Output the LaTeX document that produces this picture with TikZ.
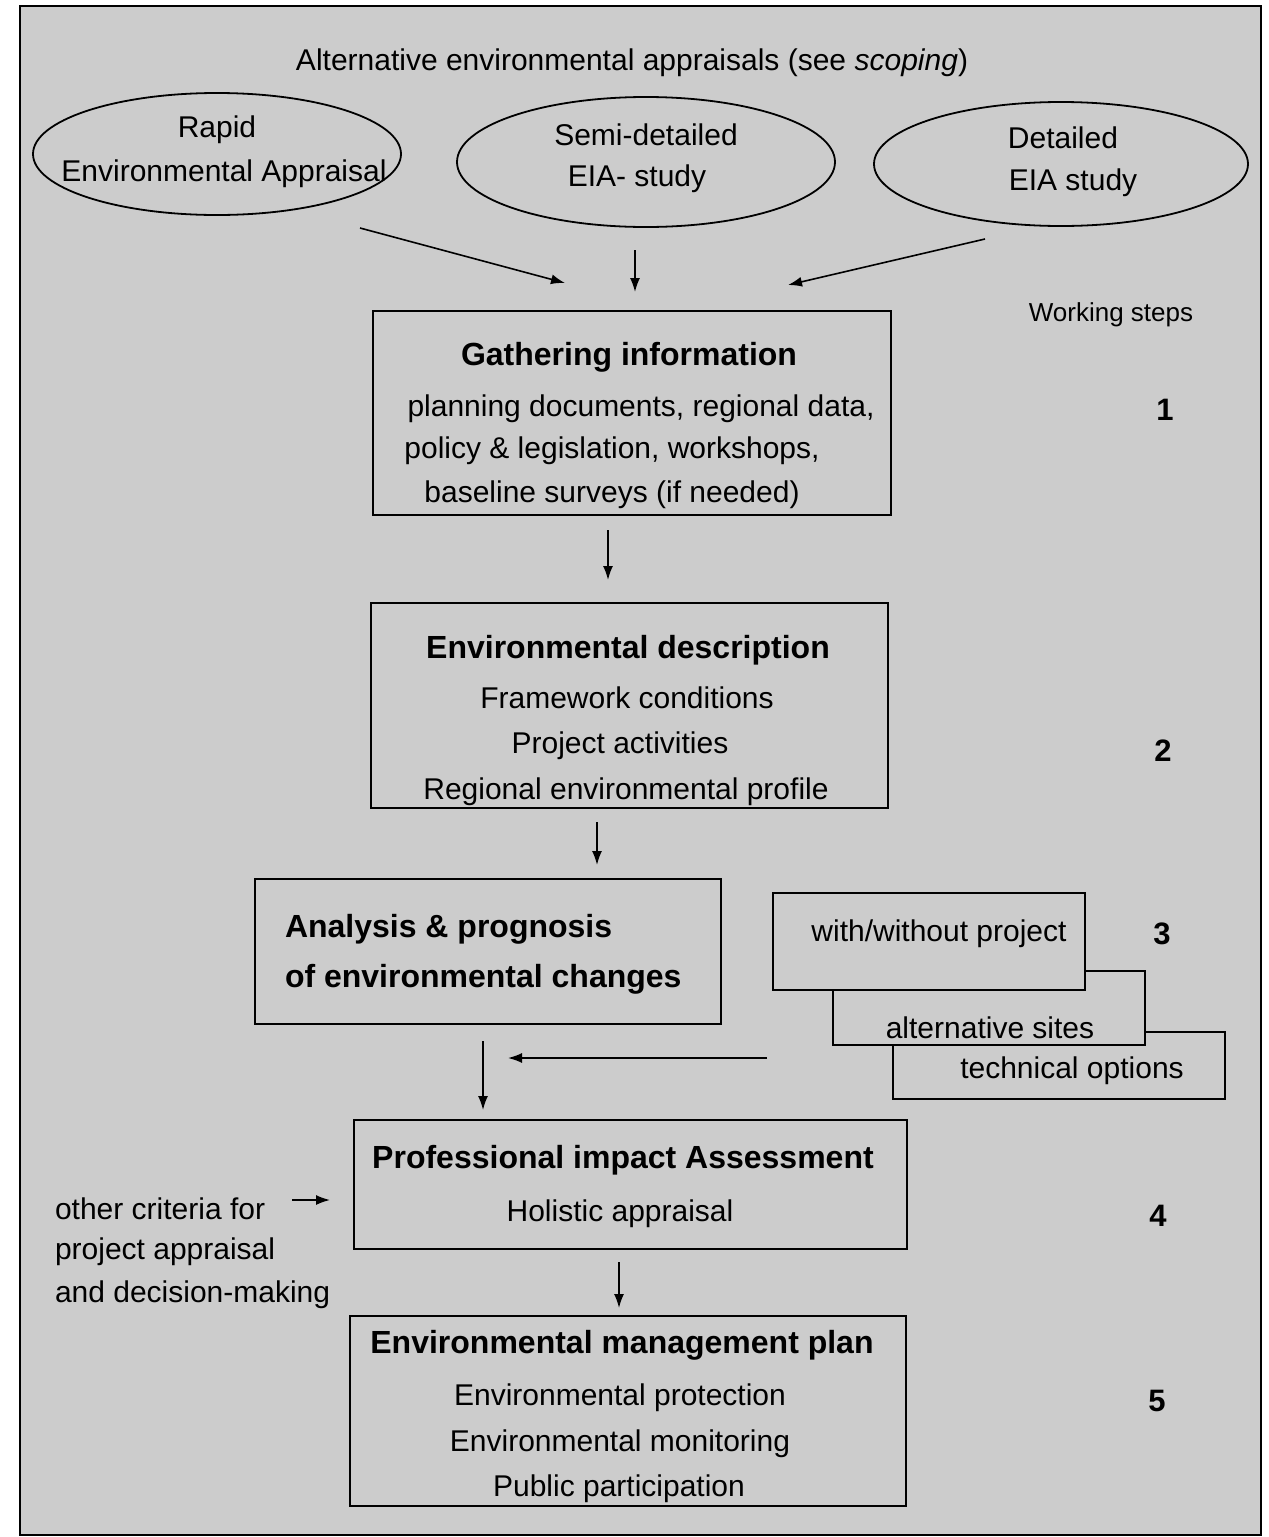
\documentclass[tikz,border=0pt]{standalone}
\usepackage{fontspec}
\setmainfont{Liberation Sans}
\usetikzlibrary{shapes.geometric,arrows.meta}
\definecolor{bg}{gray}{0.80}
\begin{document}
\begin{tikzpicture}[x=1pt,y=-1pt,
  every node/.style={inner sep=0pt, outer sep=0pt},
  txt/.style={font=\fontsize{30}{40}\selectfont},
  ttl/.style={font=\fontsize{32}{40}\selectfont\bfseries},
  num/.style={font=\fontsize{31}{40}\selectfont\bfseries},
  small/.style={font=\fontsize{26}{32}\selectfont},
  box/.style={draw, line width=1.8pt, fill=bg},
  oval/.style={draw, ellipse, line width=1.8pt, fill=bg},
  arr/.style={line width=1.6pt, -{Latex[length=14pt,width=10pt]}}
]
\useasboundingbox (0,0) rectangle (1269,1537);
\fill[white] (0,0) rectangle (1269,1537);
\node[draw, line width=1.6pt, fill=bg, minimum width=1241pt, minimum height=1529pt] (frame) at (640.5,770.5) {};

% title
\node[txt] (title) at (632,63) {Alternative environmental appraisals (see \textit{scoping})};

% ellipses
\node[oval, minimum width=368pt, minimum height=122pt] (r) at (217,154) {};
\node[oval, minimum width=378pt, minimum height=130pt] (s) at (646,162) {};
\node[oval, minimum width=374pt, minimum height=124pt] (d) at (1061,164) {};
\node[txt] (rt1) at (217,130) {Rapid};
\node[txt] (rt2) at (224,174) {Environmental Appraisal};
\node[txt] (st1) at (646,135) {Semi-detailed};
\node[txt] (st2) at (637,179) {EIA- study};
\node[txt] (dt1) at (1063,138) {Detailed};
\node[txt] (dt2) at (1073,183) {EIA study};

\node[small] (ws) at (1111,315) {Working steps};

% box 1
\node[box, minimum width=518pt, minimum height=204pt] (g) at (632,413) {};
\node[ttl] (gt) at (629,357) {Gathering information};
\node[txt] (g1) at (641,409) {planning documents, regional data,};
\node[txt] (g2) at (612,451) {policy \& legislation, workshops,};
\node[txt] (g3) at (612,495) {baseline surveys (if needed)};
\node[num] (n1) at (1165,410) {1};

% box 2
\node[box, minimum width=517pt, minimum height=205pt] (e) at (629.5,705.5) {};
\node[ttl] (et) at (628,650) {Environmental description};
\node[txt] (e1) at (627,698) {Framework conditions};
\node[txt] (e2) at (620,746) {Project activities};
\node[txt] (e3) at (626,792) {Regional environmental profile};
\node[num] (n2) at (1163,751) {2};

% box 3
\node[box, minimum width=466pt, minimum height=145pt] (a) at (488,951.5) {};
\node[ttl, anchor=west] (at1) at (285,929) {Analysis \& prognosis};
\node[ttl, anchor=west] (at2) at (285,979) {of environmental changes};

% stacked option boxes
\node[box, minimum width=332pt, minimum height=67pt] (wc) at (1059,1065.5) {};
\node[box, minimum width=312pt, minimum height=74pt] (wb) at (989,1008) {};
\node[box, minimum width=312pt, minimum height=97pt] (wa) at (929,941.5) {};
\node[txt] (wat) at (939,934) {with/without project};
\node[txt] (wbt) at (990,1028) {alternative sites};
\node[txt] (wct) at (1072,1071) {technical options};
\node[num] (n3) at (1162,934) {3};

% box 4
\node[box, minimum width=553pt, minimum height=129pt] (p) at (630.5,1184.5) {};
\node[ttl] (pt) at (623,1160) {Professional impact Assessment};
\node[txt] (p1) at (620,1214) {Holistic appraisal};
\node[num] (n4) at (1158,1216) {4};
\node[txt, anchor=west] (o1) at (55,1209) {other criteria for};
\node[txt, anchor=west] (o2) at (55,1252) {project appraisal};
\node[txt, anchor=west] (o3) at (55,1295) {and decision-making};

% box 5
\node[box, minimum width=556pt, minimum height=190pt] (m) at (628,1411) {};
\node[ttl] (mt) at (622,1345) {Environmental management plan};
\node[txt] (m1) at (620,1398) {Environmental protection};
\node[txt] (m2) at (620,1444) {Environmental monitoring};
\node[txt] (m3) at (619,1489) {Public participation};
\node[num] (n5) at (1157,1401) {5};

% connectors
\draw[arr] ([xshift=143pt,yshift=-74pt]r.center) -- ([xshift=-67pt,yshift=28pt]g.north);
\draw[arr] ([xshift=-11pt,yshift=-23pt]s.south) -- ([xshift=3pt,yshift=19pt]g.north);
\draw[arr] ([xshift=-76pt,yshift=-75pt]d.center) -- ([xshift=156pt,yshift=26pt]g.north);
\draw[arr] ([xshift=-24pt,yshift=-15pt]g.south) -- ([xshift=-21.5pt,yshift=23pt]e.north);
\draw[arr] ([xshift=-32.5pt,yshift=-14pt]e.south) -- ([xshift=109pt,yshift=14pt]a.north);
\draw[arr] ([xshift=-5pt,yshift=-17pt]a.south) -- ([xshift=-147.5pt,yshift=10pt]p.north);
\coordinate (hs) at (767,1058);
\coordinate (he) at (508,1058);
\draw[arr] (hs) -- (he);
\coordinate (os) at (292,1200);
\draw[arr] (os) -- ([xshift=-24pt,yshift=-15.5pt]p.west);
\draw[arr] ([xshift=-11.5pt,yshift=-13pt]p.south) -- ([xshift=-9pt,yshift=8pt]m.north);
\end{tikzpicture}
\end{document}
